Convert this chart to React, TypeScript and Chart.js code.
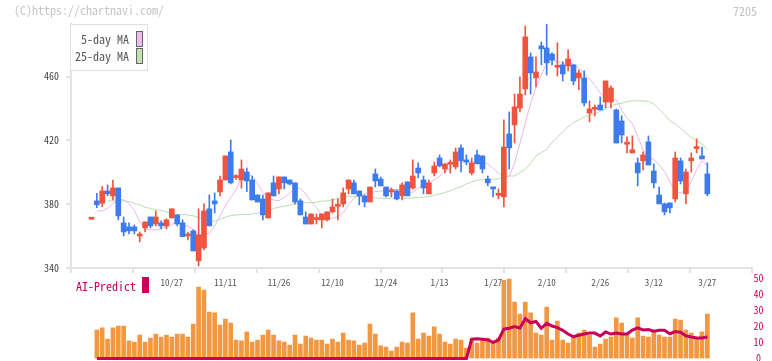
import React, { useEffect, useRef } from 'react';
import { Chart, registerables } from 'chart.js';

Chart.register(...registerables);

// ---- categories (trading days) ----
const dates = ['10/3','10/6','10/7','10/8','10/9','10/10','10/14','10/15','10/16','10/17','10/20','10/21','10/22','10/23','10/24','10/27','10/28','10/29','10/30','10/31','11/4','11/5','11/6','11/7','11/10','11/11','11/12','11/13','11/14','11/17','11/18','11/19','11/20','11/21','11/25','11/26','11/27','11/28','12/1','12/2','12/3','12/4','12/5','12/8','12/9','12/10','12/11','12/12','12/15','12/16','12/17','12/18','12/19','12/22','12/23','12/24','12/25','12/26','12/29','12/30','1/5','1/6','1/7','1/8','1/9','1/13','1/14','1/15','1/16','1/19','1/20','1/21','1/22','1/23','1/26','1/27','1/28','1/29','1/30','2/2','2/3','2/4','2/5','2/6','2/9','2/10','2/12','2/13','2/16','2/17','2/18','2/19','2/20','2/24','2/25','2/26','2/27','3/2','3/3','3/4','3/5','3/6','3/9','3/10','3/11','3/12','3/13','3/16','3/17','3/18','3/19','3/23','3/24','3/25','3/26','3/27'];

const tickDates = ['10/27','11/11','11/26','12/10','12/24','1/13','1/27','2/10','2/26','3/12','3/27'];
const priceTicks = [340, 380, 420, 460];
const volTicks = [0, 10, 20, 30, 40, 50];

// ---- series ----
const openP = [370.6, 382.1, 380.6, 388.3, 385.2, 390.2, 368.3, 365.8, 365.8, 360.1,
 365.1, 372.0, 367.6, 368.3, 366.4, 371.4, 373.3, 368.3, 360.1, 363.3,
 344.5, 352.6, 377.1, 382.1, 387.7, 395.2, 412.8, 396.7, 395.2, 400.2,
 395.2, 385.8, 383.3, 371.4, 393.4, 389.6, 397.1, 395.2, 393.4, 382.1,
 372.0, 367.6, 370.4, 370.2, 370.2, 375.2, 378.7, 380.2, 389.6, 393.4,
 388.3, 385.2, 381.4, 399.0, 395.8, 390.8, 387.7, 388.3, 385.2, 394.0,
 390.2, 402.7, 395.2, 386.5, 399.6, 409.0, 402.1, 405.1, 403.4, 415.3,
 407.8, 399.6, 410.9, 410.3, 395.8, 390.8, 385.6, 384.6, 424.1, 429.7,
 440.3, 452.3, 472.4, 459.2, 479.3, 478.0, 474.2, 465.9, 467.4, 466.7,
 467.4, 459.2, 459.2, 437.2, 439.5, 442.2, 444.1, 444.1, 439.1, 432.2,
 417.6, 412.2, 405.9, 407.2, 419.1, 400.8, 385.8, 380.2, 380.8, 383.3,
 407.2, 386.5, 407.2, 414.9, 410.3, 399.0];

const highP = [370.6, 386.9, 391.1, 392.1, 395.2, 390.2, 372.0, 368.3, 367.0, 362.6,
 368.9, 372.0, 375.8, 369.5, 370.8, 377.1, 373.3, 370.2, 362.6, 363.9,
 377.1, 380.2, 385.8, 387.1, 397.7, 410.3, 420.3, 398.5, 407.8, 402.7,
 397.7, 385.8, 385.8, 387.1, 397.7, 397.1, 397.1, 395.2, 393.4, 383.3,
 375.2, 373.9, 373.9, 373.9, 375.2, 383.3, 383.3, 390.2, 395.2, 395.2,
 388.3, 385.8, 390.8, 402.1, 397.1, 390.8, 390.2, 389.0, 393.4, 394.0,
 407.8, 405.9, 397.7, 395.2, 406.5, 410.9, 405.3, 407.8, 415.3, 417.2,
 410.9, 409.0, 414.0, 410.3, 397.7, 390.8, 389.6, 432.9, 437.9, 449.1,
 459.8, 491.8, 474.9, 472.4, 481.8, 493.0, 474.9, 481.2, 469.3, 476.8,
 467.4, 464.2, 463.6, 444.8, 442.2, 447.3, 457.3, 454.2, 439.7, 435.4,
 422.2, 422.8, 409.0, 412.8, 422.8, 405.3, 390.8, 380.8, 380.8, 412.8,
 409.0, 402.1, 412.2, 421.0, 415.9, 405.9];

const lowP = [370.6, 377.9, 378.5, 385.2, 382.7, 370.2, 360.1, 361.4, 361.4, 356.4,
 362.6, 365.1, 366.4, 364.5, 364.5, 371.4, 366.4, 359.7, 357.6, 350.7,
 341.3, 351.3, 366.4, 374.5, 385.2, 395.2, 392.7, 395.5, 390.0, 387.9,
 382.7, 381.4, 370.2, 371.4, 385.2, 386.5, 389.6, 392.1, 380.2, 373.3,
 367.6, 367.6, 367.6, 365.1, 369.5, 374.5, 370.2, 378.3, 386.5, 386.5,
 379.6, 378.3, 381.4, 390.8, 391.5, 384.6, 384.6, 382.7, 382.7, 385.2,
 389.6, 396.5, 386.5, 386.5, 397.7, 403.4, 399.6, 399.6, 402.1, 400.2,
 404.6, 398.4, 405.3, 399.6, 391.5, 384.6, 383.3, 378.3, 402.1, 418.4,
 437.9, 448.5, 449.1, 453.5, 467.4, 461.0, 467.4, 460.4, 457.3, 463.6,
 454.8, 451.7, 441.6, 431.6, 435.4, 439.1, 440.4, 440.4, 418.4, 418.4,
 412.2, 412.2, 391.5, 401.5, 404.6, 390.2, 380.2, 373.3, 374.5, 381.4,
 392.7, 380.2, 400.2, 412.2, 408.4, 385.2];

const closeP = [370.6, 379.6, 388.3, 386.5, 390.2, 372.7, 362.6, 363.3, 363.3, 360.1,
 368.9, 366.4, 372.0, 366.4, 370.2, 377.1, 367.6, 359.7, 360.1, 350.7,
 360.8, 375.8, 366.4, 380.2, 395.2, 410.3, 393.4, 397.5, 402.1, 394.6,
 382.7, 381.4, 373.3, 387.1, 385.2, 397.1, 393.4, 392.7, 381.4, 373.3,
 367.6, 373.9, 370.8, 373.9, 375.2, 378.3, 379.1, 387.1, 395.2, 386.5,
 385.2, 381.4, 390.8, 394.6, 391.5, 385.2, 389.0, 383.3, 392.1, 385.2,
 397.7, 399.6, 390.2, 393.4, 404.0, 404.0, 405.3, 405.5, 412.8, 407.2,
 406.5, 405.9, 405.3, 402.1, 393.4, 389.6, 386.0, 415.9, 415.3, 441.0,
 449.1, 484.9, 462.3, 462.9, 477.4, 468.6, 470.4, 466.3, 461.7, 471.1,
 457.3, 462.3, 443.5, 439.7, 439.9, 439.1, 457.3, 452.9, 418.4, 423.4,
 418.9, 414.1, 399.6, 410.9, 404.6, 393.4, 380.2, 375.2, 377.7, 409.0,
 394.6, 400.2, 409.0, 416.1, 408.4, 386.5];

const ma5 = [null, 375.8, 375.8, 377.5, 380.4, 382.9, 382.7, 380.6, 376.0, 369.1,
 364.5, 363.9, 363.9, 364.7, 365.8, 367.4, 368.9, 367.2, 366.2, 364.3,
 360.8, 360.8, 361.6, 366.4, 372.7, 378.9, 384.4, 389.0, 396.9, 399.0,
 397.7, 393.0, 387.3, 383.7, 382.7, 382.1, 384.4, 386.9, 390.0, 390.0,
 386.5, 381.7, 378.1, 373.3, 371.6, 371.2, 372.2, 374.8, 379.6, 383.7,
 385.8, 386.5, 387.1, 387.9, 388.3, 388.3, 389.0, 389.4, 389.0, 387.5,
 387.5, 390.0, 391.5, 393.1, 395.2, 397.5, 400.5, 402.5, 404.6, 406.1,
 406.5, 406.5, 406.7, 406.3, 405.1, 402.5, 399.4, 396.7, 397.3, 405.7,
 418.2, 430.7, 443.3, 453.3, 461.0, 468.3, 470.4, 469.4, 468.4, 468.4,
 467.9, 465.2, 462.3, 458.6, 454.6, 449.6, 446.6, 445.8, 445.4, 439.1,
 433.9, 430.7, 422.4, 414.0, 409.2, 408.2, 404.6, 400.5, 394.2, 387.3,
 387.3, 388.3, 394.2, 401.5, 407.2, 404.2];

const ma25 = [null, null, null, 382.1, 382.1, 382.1, 382.1, 381.7, 380.6, 379.6,
 378.1, 377.3, 376.6, 376.0, 375.2, 374.1, 373.7, 373.5, 373.3, 372.7,
 371.6, 370.6, 369.7, 369.3, 370.6, 371.8, 372.9, 373.3, 373.5, 373.5,
 373.9, 374.3, 375.2, 376.4, 377.3, 378.1, 378.7, 379.4, 380.2, 380.6,
 381.0, 381.0, 381.2, 381.9, 382.1, 382.7, 383.5, 384.4, 384.8, 384.8,
 384.8, 384.6, 384.2, 384.0, 383.7, 383.7, 383.7, 383.7, 383.7, 383.7,
 384.0, 384.2, 384.4, 384.8, 385.6, 386.4, 387.3, 388.5, 389.8, 391.0,
 392.7, 394.0, 395.0, 395.4, 395.6, 395.6, 395.9, 397.3, 397.7, 397.7,
 399.8, 401.9, 405.7, 410.3, 412.4, 414.5, 418.7, 422.0, 425.5, 428.7,
 431.2, 432.9, 434.7, 435.7, 436.7, 438.3, 439.7, 441.6, 442.7, 443.3,
 444.4, 444.8, 444.8, 444.8, 444.4, 442.9, 439.5, 436.2, 432.4, 430.3,
 427.8, 424.5, 421.8, 419.9, 417.8, 414.1];

const volume = [null, 17.7, 19.0, 12.1, 19.0, 20.2, 20.2, 10.9, 10.2, 14.6,
 10.2, 12.7, 15.2, 13.3, 14.6, 13.3, 15.2, 15.2, 13.3, 21.4,
 44.4, 42.5, 28.9, 28.3, 20.8, 24.5, 22.0, 11.5, 10.9, 16.5,
 10.2, 11.5, 14.6, 17.7, 14.6, 10.9, 10.2, 8.4, 14.6, 9.0,
 14.0, 12.7, 11.5, 11.5, 9.0, 12.1, 10.2, 15.8, 11.5, 10.9,
 8.4, 9.6, 21.4, 15.2, 7.8, 7.1, 4.6, 7.1, 10.2, 9.6,
 28.3, 12.1, 15.8, 14.0, 19.6, 15.2, 10.2, 9.0, 12.1, 11.5,
 6.5, 12.1, 9.6, 10.9, 12.7, 10.2, 12.7, 48.5, 49.4, 35.1,
 27.6, 35.1, 28.3, 15.8, 14.6, 32.0, 11.5, 23.3, 11.5, 9.6,
 13.3, 15.8, 17.7, 14.6, 7.1, 9.0, 12.1, 13.3, 25.2, 22.0,
 15.2, 12.7, 25.2, 14.0, 13.3, 16.5, 14.6, 13.3, 13.3, 24.5,
 23.9, 17.7, 15.8, 12.7, 16.5, 27.6];

const aiPredict = [null, 0, 0, 0, 0, 0, 0, 0, 0, 0,
 0, 0, 0, 0, 0, 0, 0, 0, 0, 0,
 0, 0, 0, 0, 0, 0, 0, 0, 0, 0,
 0, 0, 0, 0, 0, 0, 0, 0, 0, 0,
 0, 0, 0, 0, 0, 0, 0, 0, 0, 0,
 0, 0, 0, 0, 0, 0, 0, 0, 0, 0,
 0, 0, 0, 0, 0, 0, 0, 0, 0, 0,
 0, 12.0, 12.2, 12.0, 11.5, 10.0, 11.5, 18.3, 18.8, 19.8,
 19.0, 24.7, 22.2, 23.0, 18.8, 21.9, 20.2, 19.2, 17.5, 15.2,
 13.5, 14.4, 15.2, 15.8, 15.8, 14.0, 16.5, 15.2, 15.8, 15.2,
 15.2, 17.7, 19.0, 17.7, 18.0, 16.9, 17.5, 17.5, 15.4, 16.7,
 16.3, 14.0, 13.3, 12.7, 12.7, 13.3];

// ---- styling ----
const MONO = '"Noto Sans Mono CJK JP", "DejaVu Sans Mono", monospace';
const UP = '#f0543f';
const DOWN = '#3d7bef';
const MA5_COLOR = '#ebb6ec';
const MA25_COLOR = '#b9deae';
const VOL_COLOR = '#f29842';
const AI_COLOR = '#c8005a';
const AXIS_COLOR = '#e3e3e3';
const X_MIN = -3.83;
const X_MAX = 123.34;

export default function App() {
  const mainRef = useRef<HTMLCanvasElement>(null);
  const volRef = useRef<HTMLCanvasElement>(null);

  useEffect(() => {
    document.body.style.margin = '0';
    const labelIdx = tickDates.map((d) => dates.indexOf(d));
    const colors = closeP.map((c, i) => (c >= openP[i] ? UP : DOWN));
    const gridTicks = (axis: any) => {
      const n = 11;
      axis.ticks = Array.from({ length: n + 1 }, (_, k) => ({ value: X_MIN + (k * (X_MAX - X_MIN)) / n }));
    };

    const main = new Chart(mainRef.current as HTMLCanvasElement, {
      type: 'bar',
      data: {
        datasets: [
          {
            type: 'line', label: '5-day MA',
            data: ma5.map((v, i) => ({ x: i, y: v })),
            borderColor: MA5_COLOR, borderWidth: 1, pointRadius: 0, order: 4,
          } as any,
          {
            type: 'line', label: '25-day MA',
            data: ma25.map((v, i) => ({ x: i, y: v })),
            borderColor: MA25_COLOR, borderWidth: 1, pointRadius: 0, order: 3,
          } as any,
          {
            type: 'bar', label: 'wick',
            data: lowP.map((l, i) => ({ x: i, y: [l, highP[i]] })),
            backgroundColor: colors, barThickness: 1, grouped: false, order: 2,
          } as any,
          {
            type: 'bar', label: 'body',
            data: openP.map((o, i) => ({ x: i, y: [o, closeP[i]] })),
            backgroundColor: colors, barThickness: 5, grouped: false, minBarLength: 2, order: 1,
          } as any,
        ],
      },
      options: {
        animation: false,
        responsive: false,
        maintainAspectRatio: false,
        layout: { padding: { top: 24, right: 20, left: 0, bottom: 0 } },
        plugins: { legend: { display: false }, tooltip: { enabled: false } },
        scales: {
          x: {
            type: 'linear', min: X_MIN, max: X_MAX, bounds: 'data', offset: false, position: 'bottom',
            afterBuildTicks: gridTicks,
            afterFit: (s: any) => { s.height = 5; },
            ticks: { display: false },
            grid: { offset: false, drawOnChartArea: false, tickLength: 5, color: AXIS_COLOR, lineWidth: 2 },
            border: { color: AXIS_COLOR, width: 2 },
          },
          x2: {
            type: 'linear', axis: 'x', min: X_MIN, max: X_MAX, bounds: 'data', offset: false, position: 'bottom',
            afterBuildTicks: (axis: any) => { axis.ticks = labelIdx.map((v) => ({ value: v })); },
            afterFit: (s: any) => { s.height = 27; },
            ticks: {
              autoSkip: false, maxRotation: 0, padding: 4, color: '#555',
              font: { family: MONO, size: 9 },
              callback: (v: any) => dates[Math.round(Number(v))],
            },
            grid: { display: false, drawTicks: false, offset: false },
            border: { display: false },
          },
          y: {
            type: 'linear', min: 340, max: 493, bounds: 'data', position: 'left',
            afterBuildTicks: (axis: any) => { axis.ticks = priceTicks.map((v) => ({ value: v })); },
            afterFit: (s: any) => { s.width = 71; },
            ticks: { padding: 7, color: '#444', font: { family: MONO, size: 10 } },
            grid: { drawOnChartArea: false, tickLength: 5, color: AXIS_COLOR, lineWidth: 2 },
            border: { color: AXIS_COLOR, width: 2 },
          },
        },
      } as any,
    });

    const vol = new Chart(volRef.current as HTMLCanvasElement, {
      type: 'bar',
      data: {
        datasets: [
          {
            type: 'line', label: 'AI-Predict',
            data: aiPredict.map((v, i) => ({ x: i, y: v })),
            borderColor: AI_COLOR, borderWidth: 3, pointRadius: 0, order: 1, clip: 4,
          } as any,
          {
            type: 'bar', label: 'Volume',
            data: volume.map((v, i) => ({ x: i, y: v })),
            backgroundColor: VOL_COLOR, barThickness: 4, grouped: false, order: 2,
          } as any,
        ],
      },
      options: {
        animation: false,
        responsive: false,
        maintainAspectRatio: false,
        layout: { padding: { left: 71, top: 8, right: 0, bottom: 11.5 } },
        plugins: { legend: { display: false }, tooltip: { enabled: false } },
        scales: {
          x: { type: 'linear', min: X_MIN, max: X_MAX, bounds: 'data', offset: false, display: false, grid: { offset: false } },
          y: {
            type: 'linear', position: 'right', min: 0, max: 50, bounds: 'data',
            afterBuildTicks: (axis: any) => { axis.ticks = volTicks.map((v) => ({ value: v })); },
            afterFit: (s: any) => { s.width = 20; },
            ticks: { color: AI_COLOR, crossAlign: 'center', padding: 1.5, font: { family: MONO, size: 10 } },
            grid: { display: false, drawTicks: false },
            border: { display: false },
          },
        },
      } as any,
    });

    return () => {
      main.destroy();
      vol.destroy();
    };
  }, []);

  const txt = (extra: any): any => ({
    position: 'absolute', whiteSpace: 'pre', fontFamily: MONO, fontSize: 12, lineHeight: '12px', ...extra,
  });

  return (
    <div style={{ position: 'fixed', left: 0, top: 0, width: 772, height: 361, overflow: 'hidden', background: '#fff' }}>
      <canvas ref={mainRef} width={772} height={300} style={{ position: 'absolute', left: 0, top: 0, width: 772, height: 300 }} />
      <canvas ref={volRef} width={772} height={100} style={{ position: 'absolute', left: 0, top: 270, width: 772, height: 100 }} />
      <div style={txt({ left: 14, top: 4, color: '#c6c6c6' })}>(C)https://chartnavi.com/</div>
      <div style={txt({ left: 733, top: 5, color: '#c2c2c2' })}>7205</div>
      <div style={{ position: 'absolute', left: 70, top: 24, width: 76, height: 45, border: '1px solid #e0e0e0', background: '#fff' }} />
      <div style={txt({ left: 60, width: 69, top: 33, textAlign: 'right', color: '#555' })}>5-day MA</div>
      <div style={{ position: 'absolute', left: 136, top: 31, width: 5, height: 14, border: '1px solid #666', background: '#f0bcee' }} />
      <div style={txt({ left: 60, width: 69, top: 49.5, textAlign: 'right', color: '#555' })}>25-day MA</div>
      <div style={{ position: 'absolute', left: 136, top: 48, width: 5, height: 14, border: '1px solid #666', background: '#c0e2b4' }} />
      <div style={txt({ left: 76, top: 279.5, color: AI_COLOR })}>AI-Predict</div>
      <div style={{ position: 'absolute', left: 142, top: 277, width: 7, height: 16, background: AI_COLOR }} />
    </div>
  );
}
